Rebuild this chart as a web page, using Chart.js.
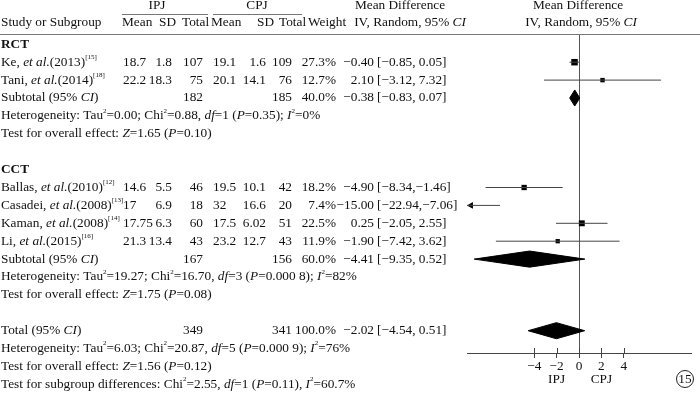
<!DOCTYPE html>
<html>
<head>
<meta charset="utf-8">
<script src="https://cdn.jsdelivr.net/npm/chart.js@4.4.1/dist/chart.umd.min.js"></script>
<style>
  html, body { margin: 0; padding: 0; background: #fff; }
  canvas { display: block; }
</style>
</head>
<body>
<canvas id="forest" width="700" height="396"></canvas>
<script>
// study data
const studyNames = ['Ke', 'Tani', 'Ballas', 'Casadei', 'Kaman', 'Li'];
const studyYears = [2013, 2014, 2010, 2008, 2008, 2015];
const studyRefs = [15, 18, 12, 13, 14, 16];
const studyRow = [3, 4, 10, 11, 12, 13];
const ipjMean = [18.7, 22.2, 14.6, 17, 17.75, 21.3];
const ipjSd = [1.8, 18.3, 5.5, 6.9, 6.3, 13.4];
const ipjN = [107, 75, 46, 18, 60, 43];
const cpjMean = [19.1, 20.1, 19.5, 32, 17.5, 23.2];
const cpjSd = [1.6, 14.1, 10.1, 16.6, 6.02, 12.7];
const cpjN = [109, 76, 42, 20, 51, 43];
const weight = [27.3, 12.7, 18.2, 7.4, 22.5, 11.9];
const md = [-0.40, 2.10, -4.90, -15.00, 0.25, -1.90];
const ciLo = [-0.85, -3.12, -8.34, -22.94, -2.05, -7.42];
const ciHi = [0.05, 7.32, -1.46, -7.06, 2.55, 3.62];

// subtotal / total rows
const poolLabels = ['Subtotal (95% _CI_)', 'Subtotal (95% _CI_)', 'Total (95% _CI_)'];
const poolRow = [5, 14, 18];
const poolIpjN = [182, 167, 349];
const poolCpjN = [185, 156, 341];
const poolWeight = [40.0, 60.0, 100.0];
const poolMd = [-0.38, -4.41, -2.02];
const poolLo = [-0.83, -9.35, -4.54];
const poolHi = [0.07, 0.52, 0.51];

// group headings and statistics lines
const groupLabels = ['RCT', 'CCT'];
const groupRow = [2, 9];
const statLines = [
  'Heterogeneity: Tau^2^=0.00; Chi^2^=0.88, _df_=1 (_P_=0.35); _I_^2^=0%',
  'Test for overall effect: _Z_=1.65 (_P_=0.10)',
  'Heterogeneity: Tau^2^=19.27; Chi^2^=16.70, _df_=3 (_P_=0.000 8); _I_^2^=82%',
  'Test for overall effect: _Z_=1.75 (_P_=0.08)',
  'Heterogeneity: Tau^2^=6.03; Chi^2^=20.87, _df_=5 (_P_=0.000 9); _I_^2^=76%',
  'Test for overall effect: _Z_=1.56 (_P_=0.12)',
  'Test for subgroup differences: Chi^2^=2.55, _df_=1 (_P_=0.11), _I_^2^=60.7%'
];
const statRow = [6, 7, 15, 16, 19, 20, 21];

// axis
const X_MIN = -10, X_MAX = 10;
const xTicks = [-4, -2, 0, 2, 4];
const favourLabels = ['IPJ', 'CPJ'];
const favourAt = [-2, 2];

// layout
const FF = '"Liberation Serif", "Times New Roman", serif';
const FS = 13.3;
const ROW0 = 8.5, ROWH = 17.9;
const PLOT_TOP = 34, PLOT_BOTTOM = 353;
const TEXT_C = '#111', LINE_C = '#444';
const DIAMOND_H = 0.45;

function fmt(v, d) {
  return (v < 0 ? '\u2212' : '') + Math.abs(v).toFixed(d);
}
function ciText(lo, hi) {
  return '[' + fmt(lo, 2) + ',' + (hi < 0 ? '' : ' ') + fmt(hi, 2) + ']';
}

// _italic_  ^superscript^
function drawRich(ctx, str, px, py, align, bold) {
  const parts = str.split(/(_[^_]+_|\^[^^]+\^)/).filter(s => s);
  const segs = parts.map(p => {
    if (p[0] === '_') return { t: p.slice(1, -1), font: `italic ${FS}px ${FF}`, dy: 0 };
    if (p[0] === '^') return { t: p.slice(1, -1), font: `7px ${FF}`, dy: -5 };
    return { t: p, font: `${bold ? 'bold ' : ''}${FS}px ${FF}`, dy: 0 };
  });
  let w = 0;
  segs.forEach(s => { ctx.font = s.font; s.w = ctx.measureText(s.t).width; w += s.w; });
  let cx = align === 'right' ? px - w : align === 'center' ? px - w / 2 : px;
  ctx.textAlign = 'left';
  ctx.textBaseline = 'middle';
  segs.forEach(s => { ctx.font = s.font; ctx.fillText(s.t, cx, py + s.dy); cx += s.w; });
}

const tablePlugin = {
  id: 'forestTable',
  afterDraw(chart) {
    const ctx = chart.ctx;
    const xs = chart.scales.x, ys = chart.scales.y;
    const rowY = r => ys.getPixelForValue(r);
    ctx.save();
    ctx.fillStyle = TEXT_C;

    // header rows
    const h1 = 5.5, h2 = 23;
    drawRich(ctx, 'IPJ', 157, h1, 'center');
    drawRich(ctx, 'CPJ', 257, h1, 'center');
    drawRich(ctx, 'Mean Difference', 400, h1, 'center');
    drawRich(ctx, 'Mean Difference', 578, h1, 'center');
    drawRich(ctx, 'Study or Subgroup', 1, h2, 'left');
    drawRich(ctx, 'Mean', 122, h2, 'left');
    drawRich(ctx, 'SD', 159, h2, 'left');
    drawRich(ctx, 'Total', 182, h2, 'left');
    drawRich(ctx, 'Mean', 211, h2, 'left');
    drawRich(ctx, 'SD', 257, h2, 'left');
    drawRich(ctx, 'Total', 279, h2, 'left');
    drawRich(ctx, 'Weight', 308, h2, 'left');
    drawRich(ctx, 'IV, Random, 95% _CI_', 410, h2, 'center');
    drawRich(ctx, 'IV, Random, 95% _CI_', 581, h2, 'center');

    ctx.strokeStyle = '#777';
    ctx.lineWidth = 1;
    ctx.beginPath();
    ctx.moveTo(122, 14.5); ctx.lineTo(208, 14.5);
    ctx.moveTo(213, 14.5); ctx.lineTo(302, 14.5);
    ctx.moveTo(0, PLOT_TOP + 0.5); ctx.lineTo(700, PLOT_TOP + 0.5);
    ctx.stroke();

    groupLabels.forEach((g, i) => drawRich(ctx, g, 1, rowY(groupRow[i]), 'left', true));

    studyNames.forEach((n, i) => {
      const y = rowY(studyRow[i]);
      drawRich(ctx, `${n}, _et al._(${studyYears[i]})^[${studyRefs[i]}]^`, 1, y, 'left');
      drawRich(ctx, String(ipjMean[i]), 123, y, 'left');
      drawRich(ctx, String(ipjSd[i]), 172, y, 'right');
      drawRich(ctx, String(ipjN[i]), 203, y, 'right');
      drawRich(ctx, String(cpjMean[i]), 213, y, 'left');
      drawRich(ctx, String(cpjSd[i]), 266, y, 'right');
      drawRich(ctx, String(cpjN[i]), 292, y, 'right');
      drawRich(ctx, weight[i].toFixed(1) + '%', 336, y, 'right');
      drawRich(ctx, fmt(md[i], 2), 374, y, 'right');
      drawRich(ctx, ciText(ciLo[i], ciHi[i]), 377, y, 'left');
    });

    poolLabels.forEach((l, i) => {
      const y = rowY(poolRow[i]);
      drawRich(ctx, l, 1, y, 'left');
      drawRich(ctx, String(poolIpjN[i]), 203, y, 'right');
      drawRich(ctx, String(poolCpjN[i]), 292, y, 'right');
      drawRich(ctx, poolWeight[i].toFixed(1) + '%', 336, y, 'right');
      drawRich(ctx, fmt(poolMd[i], 2), 374, y, 'right');
      drawRich(ctx, ciText(poolLo[i], poolHi[i]), 377, y, 'left');
    });

    statLines.forEach((s, i) => drawRich(ctx, s, 1, rowY(statRow[i]), 'left'));

    // inner half of tick marks
    ctx.strokeStyle = LINE_C;
    ctx.beginPath();
    xs.ticks.forEach(t => {
      const px = Math.round(xs.getPixelForValue(t.value)) + 0.5;
      ctx.moveTo(px, PLOT_BOTTOM - 5); ctx.lineTo(px, PLOT_BOTTOM);
    });
    ctx.stroke();

    favourLabels.forEach((f, i) => drawRich(ctx, f, xs.getPixelForValue(favourAt[i]), 380, 'center'));

    // figure number
    ctx.beginPath();
    ctx.arc(685, 379, 8.5, 0, Math.PI * 2);
    ctx.strokeStyle = '#222';
    ctx.stroke();
    drawRich(ctx, '15', 685, 379.5, 'center');
    ctx.restore();
  }
};

const datasets = [];
studyNames.forEach((n, i) => {
  datasets.push({
    type: 'line',
    data: [{ x: ciLo[i], y: studyRow[i] }, { x: ciHi[i], y: studyRow[i] }],
    borderColor: LINE_C, borderWidth: 1, pointRadius: 0, fill: false
  });
});
datasets.push({
  type: 'scatter',
  data: md.map((v, i) => ({ x: v, y: studyRow[i] })),
  pointStyle: 'rect',
  pointRadius: weight.map(w => Math.sqrt(w) * 0.88),
  backgroundColor: '#000', borderColor: '#000', borderWidth: 0,
  clip: 0
});
datasets.push({
  type: 'scatter',
  data: studyRow.filter((r, i) => ciLo[i] < X_MIN).map(r => ({ x: X_MIN + 0.35, y: r })),
  pointStyle: 'triangle', rotation: -90, pointRadius: 4,
  backgroundColor: '#000', borderColor: '#000', borderWidth: 0,
  clip: false
});
poolRow.forEach((r, i) => {
  datasets.push({
    type: 'line',
    data: [
      { x: poolLo[i], y: r },
      { x: poolMd[i], y: r - DIAMOND_H },
      { x: poolHi[i], y: r },
      { x: poolMd[i], y: r + DIAMOND_H },
      { x: poolLo[i], y: r }
    ],
    borderColor: '#000', backgroundColor: '#000', borderWidth: 1,
    pointRadius: 0, tension: 0, fill: 'shape'
  });
});

new Chart(document.getElementById('forest'), {
  type: 'scatter',
  data: { datasets },
  options: {
    responsive: false,
    animation: false,
    events: [],
    layout: { padding: { left: 467, right: 9, top: PLOT_TOP, bottom: 0 } },
    plugins: { legend: { display: false }, tooltip: { enabled: false } },
    scales: {
      x: {
        type: 'linear', min: X_MIN, max: X_MAX,
        afterBuildTicks: s => { s.ticks = xTicks.map(v => ({ value: v })); },
        afterFit: s => { s.height = 396 - PLOT_BOTTOM; },
        border: { display: true, color: LINE_C, width: 1 },
        grid: {
          drawOnChartArea: true, drawTicks: true, tickLength: 5,
          color: c => (c.tick && c.tick.value === 0 ? '#555' : 'rgba(0,0,0,0)'),
          tickColor: LINE_C
        },
        ticks: {
          padding: 1, color: TEXT_C, font: { family: FF, size: FS },
          callback: v => (v < 0 ? '\u2212' + (-v) : String(v))
        }
      },
      y: {
        type: 'linear', reverse: true, display: false,
        min: (PLOT_TOP - ROW0) / ROWH,
        max: (PLOT_BOTTOM - ROW0) / ROWH
      }
    }
  },
  plugins: [tablePlugin]
});
</script>
</body>
</html>
